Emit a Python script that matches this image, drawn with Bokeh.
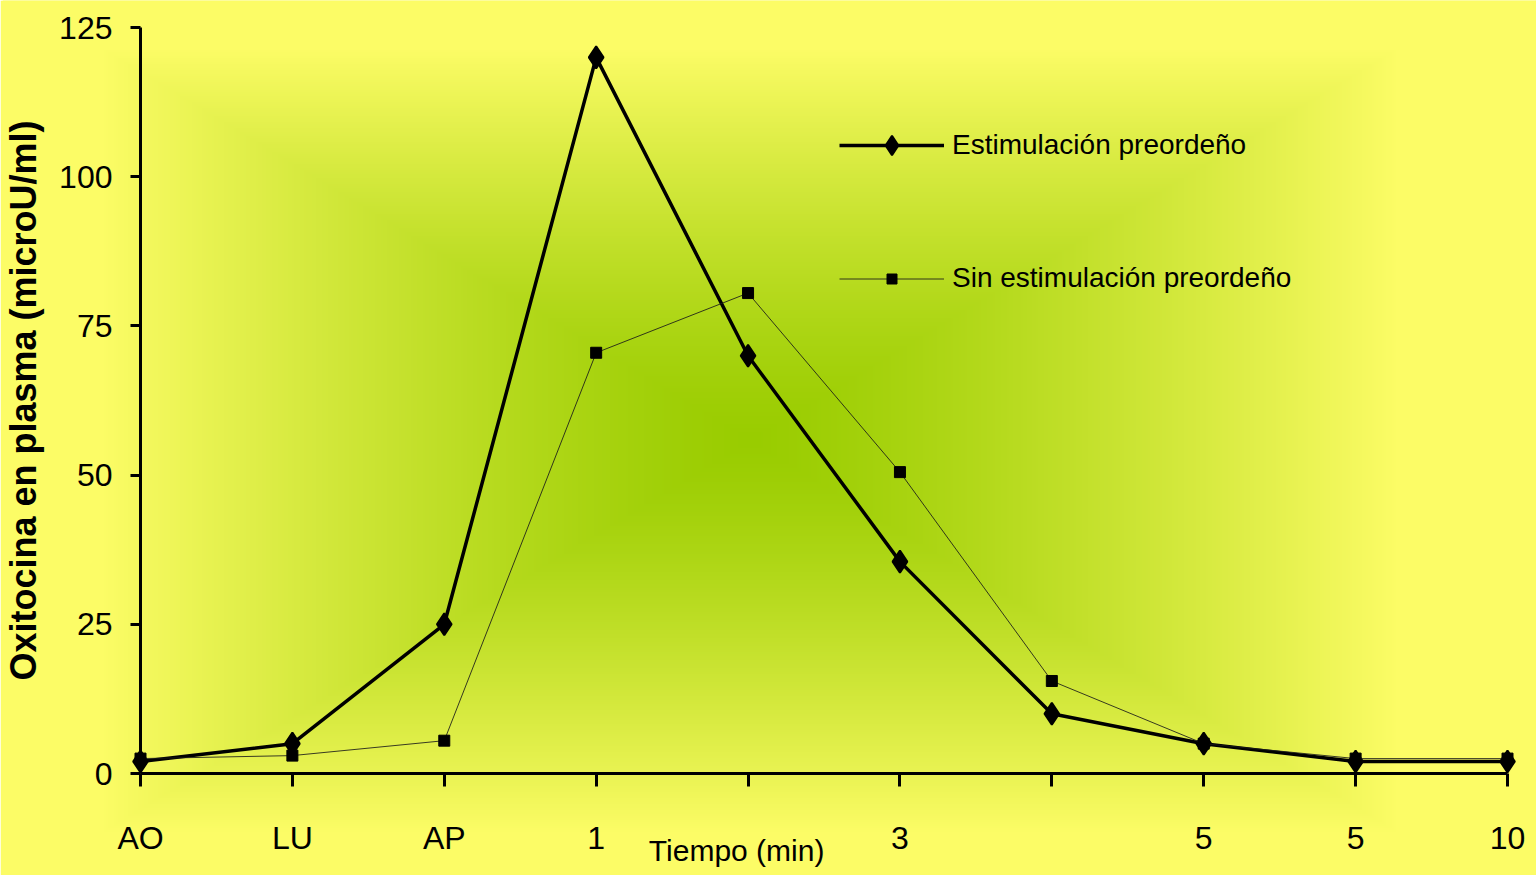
import numpy as np
from bokeh.plotting import figure
from bokeh.models import Range1d, FixedTicker, Legend, LegendItem
from bokeh.core.properties import value
from bokeh.embed import file_html
from bokeh.resources import INLINE

# ---------------- data ----------------
categories = ["AO", "LU", "AP", "1", "", "3", "", "5", "5", "10"]
estimulacion = [2, 5, 25, 120, 70, 35.5, 10, 5, 2, 2]
sin_estimulacion = [2.5, 3, 5.5, 70.5, 80.5, 50.5, 15.5, 5, 2.5, 2.5]
y_ticks = [0, 25, 50, 75, 100, 125]
series_names = ["Estimulación preordeño", "Sin estimulación preordeño"]
x_title = "Tiempo (min)"
y_title = "Oxitocina en plasma (microU/ml)"
x_pos = list(range(len(categories)))

# ---------------- layout ----------------
W, H = 1536, 875
frame_l, frame_r, frame_t, frame_b = 138, 1507, 27, 773
xs = (frame_r - frame_l) / (len(categories) - 1)
ys = (frame_b - frame_t) / (y_ticks[-1] - y_ticks[0])

FONT = "Liberation Sans"
YELLOW = (252, 252, 102)
GREEN = (153, 204, 0)

p = figure(width=W, height=H, output_backend="svg", toolbar_location=None,
           x_range=Range1d(0, len(categories) - 1), y_range=Range1d(y_ticks[0], y_ticks[-1]),
           min_border_left=frame_l, min_border_right=W - frame_r,
           min_border_top=frame_t, min_border_bottom=H - frame_b)
p.outline_line_color = None
p.grid.visible = False
p.border_fill_color = "#%02x%02x%02x" % YELLOW
p.background_fill_color = "#%02x%02x%02x" % YELLOW

# ---------------- background gradient (rectangular path from centre), whole canvas ----------------
nx, ny = W // 2, H // 2
sx = np.linspace(0, W, nx)
sy = np.linspace(H, 0, ny)
SX, SY = np.meshgrid(sx, sy)
cx, cy = 748.0, 440.0
u = np.maximum(np.abs(SX - cx) / 650.0, np.abs(SY - cy) / 393.0)
t = np.clip(u, 0, 1) ** 1.3
img = np.zeros((ny, nx), dtype=np.uint32)
view = img.view(dtype=np.uint8).reshape((ny, nx, 4))
for k in range(3):
    view[:, :, k] = np.round(GREEN[k] + (YELLOW[k] - GREEN[k]) * t).astype(np.uint8)
view[:, :, 3] = 255
p.image_rgba(image=[img], x=-frame_l / xs, y=-(H - frame_b) / ys,
             dw=W / xs, dh=H / ys, level="guide")

# ---------------- series ----------------
r1 = p.line(x_pos, estimulacion, line_color="black", line_width=3.5, level="annotation")
s1 = p.scatter(x_pos, estimulacion, marker="diamond", size=22,
               fill_color="black", line_color="black", line_width=2, level="annotation")
r2 = p.line(x_pos, sin_estimulacion, line_color="#1a1a1a", line_width=1, line_alpha=0.85,
            level="annotation")
s2 = p.scatter(x_pos, sin_estimulacion, marker="square", size=11,
               fill_color="black", line_color="black", line_width=1, level="annotation")

# ---------------- axes ----------------
yax = p.yaxis[0]
yax.level = "overlay"
yax.ticker = FixedTicker(ticks=y_ticks)
yax.minor_tick_line_color = None
yax.major_tick_in = 0
yax.major_tick_out = 10
yax.axis_line_width = 3
yax.major_tick_line_width = 3
yax.major_label_standoff = 18
yax.major_label_text_font = FONT
yax.major_label_text_font_size = "32px"
yax.major_label_text_color = "black"
yax.axis_label = y_title
yax.axis_label_standoff = 12
yax.axis_label_text_font = FONT
yax.axis_label_text_font_style = "bold"
yax.axis_label_text_font_size = "36px"
yax.axis_label_text_color = "black"

xax = p.xaxis[0]
xax.level = "overlay"
xax.ticker = FixedTicker(ticks=x_pos)
xax.major_label_overrides = {i: c for i, c in enumerate(categories)}
xax.minor_tick_line_color = None
xax.major_tick_in = 0
xax.major_tick_out = 13
xax.axis_line_width = 3
xax.major_tick_line_width = 3
xax.major_label_standoff = 33
xax.major_label_text_font = FONT
xax.major_label_text_font_size = "32px"
xax.major_label_text_color = "black"

# x title: sits under the axis between the "1" and "3" ticks (as in the original)
p.text(x=[(735 - frame_l) / xs], y=[-(850 - frame_b) / ys], text=[x_title],
       text_align="center", text_baseline="middle", text_font=value(FONT),
       text_font_size="30px", text_color="black", level="annotation")

# ---------------- legends ----------------
def make_legend(label, renderers, gh, item_h, cy_px):
    bottom_px = cy_px + item_h / 2
    return Legend(items=[LegendItem(label=label, renderers=renderers)],
                  location=(837 - frame_l, frame_b - bottom_px),
                  glyph_width=105, glyph_height=gh, label_height=item_h,
                  label_standoff=8, padding=0, margin=0, spacing=0,
                  border_line_alpha=0, background_fill_alpha=0,
                  label_text_font=FONT, label_text_font_size="28px",
                  label_text_color="black")

p.add_layout(make_legend(series_names[0], [r1, s1], 48, 48, 145))
p.add_layout(make_legend(series_names[1], [r2, s2], 25, 36, 278))

open("out.html", "w").write(file_html(p, INLINE))
